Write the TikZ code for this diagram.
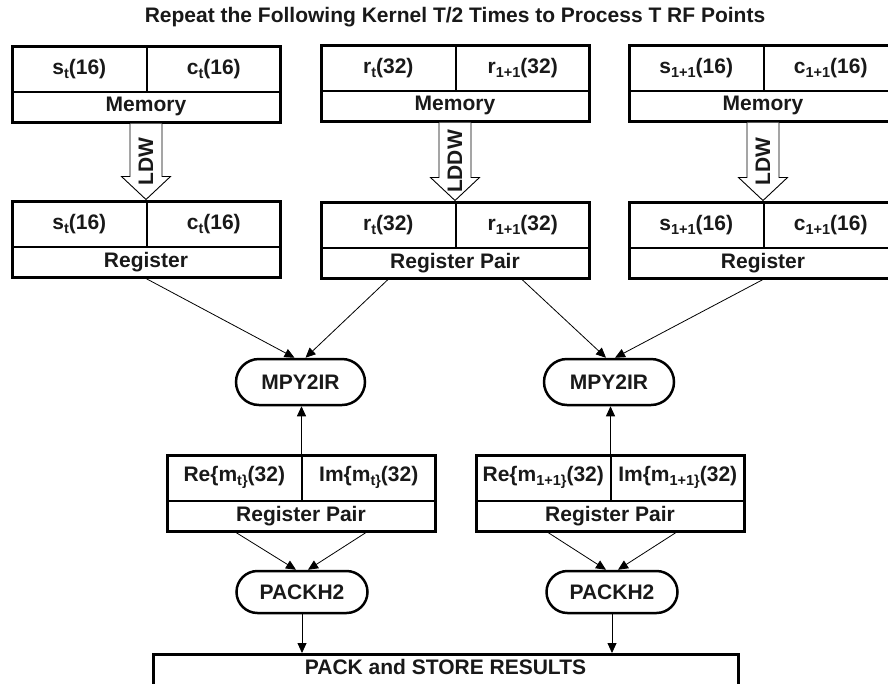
\documentclass[tikz,border=0pt]{standalone}
\usepackage{fontspec}
\setmainfont{Liberation Sans}
\usetikzlibrary{arrows.meta,shapes.misc,fit,calc}

% lowered, smaller index text
\newcommand{\lowsub}[1]{\raisebox{-0.35ex}{\fontsize{14.5}{14.5}\selectfont #1}}

% a two-field box with a caption row: name, left x, top y, left, right, caption
\newcommand{\cellbox}[6]{%
  \node[cell, minimum width=133.5, minimum height=44.5] (#1-l) at (#2,#3) {#4};
  \node[cell, minimum width=133.5, minimum height=44.5] (#1-r) at (#1-l.north east) {#5};
  \node[cell, minimum width=267, minimum height=29.5] (#1-b) at (#1-l.south west) {#6};
  \node[frame, fit=(#1-l)(#1-b)] (#1) {};
}

% hollow load arrow from one box down to another, with a vertical label
\newcommand{\loadarrow}[3]{%
  \draw[blockarrow]
    ([xshift=-16]#1.south) -- ([xshift=-16,yshift=23]#2.north)
    -- ([xshift=-24.5,yshift=23]#2.north) -- (#2.north)
    -- ([xshift=24.5,yshift=23]#2.north) -- ([xshift=16,yshift=23]#2.north)
    -- ([xshift=16]#1.south);
  \node[lbl, rotate=90] (#1-op) at ($(#1.south)!0.5!(#2.north)$) {#3};
}

\tikzset{
  lbl/.style={font=\bfseries\fontsize{21}{25}\selectfont, text=black!90},
  cell/.style={lbl, draw, line width=1pt, inner sep=0pt, anchor=north west},
  frame/.style={draw, line width=3pt, inner sep=0pt},
  opbox/.style={lbl, rounded rectangle, draw, line width=2.5pt, inner sep=0pt},
  blockarrow/.style={draw, fill=white, line width=0.9pt, line join=miter},
  flow/.style={line width=0.8pt, -{Triangle[length=10pt,width=9pt]}},
}

\begin{document}
\begin{tikzpicture}[x=1pt,y=-1pt]
\useasboundingbox (0,0) rectangle (888,683);
\clip (0,0) rectangle (888,683);
\fill[white] (0,0) rectangle (888,683);

\node[lbl] (title) at (455,17) {Repeat the Following Kernel T/2 Times to Process T RF Points};

% memory words
\cellbox{mem1}{12}{46}{s\lowsub{t}(16)}{c\lowsub{t}(16)}{Memory}
\cellbox{mem2}{321}{45}{r\lowsub{t}(32)}{r\lowsub{1+1}(32)}{Memory}
\cellbox{mem3}{629}{45}{s\lowsub{1+1}(16)}{c\lowsub{1+1}(16)}{Memory}

% registers
\cellbox{reg1}{12}{201}{s\lowsub{t}(16)}{c\lowsub{t}(16)}{Register}
\cellbox{reg2}{321}{202}{r\lowsub{t}(32)}{r\lowsub{1+1}(32)}{Register Pair}
\cellbox{reg3}{629}{202}{s\lowsub{1+1}(16)}{c\lowsub{1+1}(16)}{Register}

% loads
\loadarrow{mem1}{reg1}{LDW}
\loadarrow{mem2}{reg2}{LDDW}
\loadarrow{mem3}{reg3}{LDW}

% multiplies
\node[opbox, minimum width=129, minimum height=46] (mpy1) at (300.5,382) {MPY2IR};
\node[opbox, minimum width=130, minimum height=46] (mpy2) at (609,382) {MPY2IR};

% products
\cellbox{res1}{167}{455}{Re\{m\lowsub{t\}}(32)}{Im\{m\lowsub{t\}}(32)}{Register Pair}
\cellbox{res2}{476}{455}{Re\{m\lowsub{1+1\}}(32)}{Im\{m\lowsub{1+1\}}(32)}{Register Pair}

% packs
\node[opbox, minimum width=131, minimum height=42] (pk1) at (302,592) {PACKH2};
\node[opbox, minimum width=131, minimum height=42] (pk2) at (612,592) {PACKH2};

\node[frame, minimum width=585, minimum height=40, anchor=north] (store) at (445.5,653) {};
\node[lbl] (store-t) at (445.5,667) {PACK and STORE RESULTS};

% data flow
\draw[flow] (reg1.south) -- ([xshift=-6]mpy1.north);
\draw[flow] ([xshift=-67]reg2.south) -- ([xshift=5]mpy1.north);
\draw[flow] ([xshift=67]reg2.south) -- ([xshift=-3]mpy2.north);
\draw[flow] (reg3.south) -- ([xshift=6]mpy2.north);

\draw[flow] (res1-l.north east) -- (res1-l.north east |- mpy1.south);
\draw[flow] (res2-l.north east) -- (res2-l.north east |- mpy2.south);

\draw[flow] ([xshift=-65]res1.south) -- ([xshift=-6]pk1.north);
\draw[flow] ([xshift=65]res1.south) -- ([xshift=6]pk1.north);
\draw[flow] ([xshift=-62]res2.south) -- ([xshift=-6]pk2.north);
\draw[flow] ([xshift=66]res2.south) -- ([xshift=6]pk2.north);

\draw[flow] (pk1.south) -- (pk1.south |- store.north);
\draw[flow] (pk2.south) -- (pk2.south |- store.north);
\end{tikzpicture}
\end{document}
